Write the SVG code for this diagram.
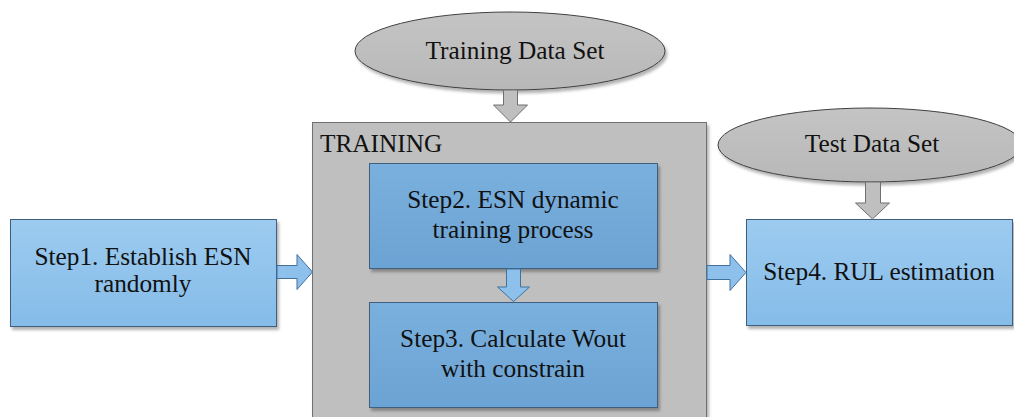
<svg xmlns="http://www.w3.org/2000/svg" width="1014" height="417" viewBox="0 0 1014 417">
  <defs>
    <linearGradient id="blueLight" x1="0" y1="0" x2="0" y2="1">
      <stop offset="0" stop-color="#9DCBF0"/>
      <stop offset="1" stop-color="#85BCE8"/>
    </linearGradient>
    <linearGradient id="blueDark" x1="0" y1="0" x2="0" y2="1">
      <stop offset="0" stop-color="#7AB0DD"/>
      <stop offset="1" stop-color="#6BA3D4"/>
    </linearGradient>
    <linearGradient id="grayFill" x1="0" y1="0" x2="0" y2="1">
      <stop offset="0" stop-color="#C4C4C4"/>
      <stop offset="1" stop-color="#B8B8B8"/>
    </linearGradient>
    <filter id="shadow" x="-5%" y="-5%" width="115%" height="120%">
      <feDropShadow dx="2" dy="3" stdDeviation="1.5" flood-color="#000" flood-opacity="0.3"/>
    </filter>
  </defs>
  <style>
    text { font-family: 'Liberation Serif', 'Times New Roman', serif; font-size: 25.3px; fill: #111; }
    .mid { text-anchor: middle; }
    .stepA { fill: url(#blueLight); stroke: #3F5F7F; stroke-width: 1; filter: url(#shadow); }
    .stepB { fill: url(#blueDark); stroke: #3F5F7F; stroke-width: 1; filter: url(#shadow); }
    .data { fill: url(#grayFill); stroke: #404040; stroke-width: 1; filter: url(#shadow); }
    .frame { fill: #BFBFBF; stroke: #6F6F6F; stroke-width: 1; filter: url(#shadow); }
    .arrBlue { fill: #8DC0EA; stroke: #41719C; stroke-width: 1; }
    .arrGray { fill: #BFBFBF; stroke: #6F6F6F; stroke-width: 1; }
  </style>
  <rect width="1014" height="417" fill="#FFFFFF"/>

  <g id="training-frame">
    <rect class="frame" x="312.5" y="122.5" width="394" height="300"/>
    <text x="320" y="152">TRAINING</text>
  </g>

  <g id="training-data">
    <ellipse class="data" cx="510" cy="51" rx="155" ry="39"/>
    <text class="mid" x="515" y="59">Training Data Set</text>
  </g>

  <g id="test-data">
    <ellipse class="data" cx="870" cy="145" rx="152" ry="37"/>
    <text class="mid" x="872" y="152">Test Data Set</text>
  </g>

  <g id="step1">
    <rect class="stepA" x="10.5" y="219.5" width="266" height="107"/>
    <text class="mid" x="143" y="265">Step1. Establish ESN</text>
    <text class="mid" x="143" y="292">randomly</text>
  </g>

  <g id="step2">
    <rect class="stepB" x="369.5" y="163.5" width="288" height="105"/>
    <text class="mid" x="513" y="208">Step2. ESN dynamic</text>
    <text class="mid" x="513" y="238">training process</text>
  </g>

  <g id="step3">
    <rect class="stepB" x="369.5" y="302.5" width="288" height="105"/>
    <text class="mid" x="513" y="347">Step3. Calculate Wout</text>
    <text class="mid" x="513" y="377">with constrain</text>
  </g>

  <g id="step4">
    <rect class="stepA" x="746.5" y="219.5" width="266" height="106"/>
    <text class="mid" x="879" y="280">Step4. RUL estimation</text>
  </g>

  <g id="connectors">
    <!-- Training Data Set down into TRAINING -->
    <path class="arrGray" d="M503.5 90 H517.5 V105 H527.5 L510.5 122 L493.5 105 H503.5 Z"/>
    <!-- Test Data Set down into Step4 -->
    <path class="arrGray" d="M865.5 182 H880.5 V203 H889.5 L872.5 219 L855.5 203 H865.5 Z"/>
    <!-- Step1 to TRAINING -->
    <path class="arrBlue" d="M277 265.5 V278.5 H297 V289.5 L312.5 272 L297 254.5 V265.5 Z"/>
    <!-- Step2 to Step3 -->
    <path class="arrBlue" d="M506.5 269 H520.5 V287 H529.5 L513.5 301.5 L497.5 287 H506.5 Z"/>
    <!-- TRAINING to Step4 -->
    <path class="arrBlue" d="M707 265.5 V279.5 H730 V290.5 L746 272.5 L730 254.5 V265.5 Z"/>
  </g>
</svg>
